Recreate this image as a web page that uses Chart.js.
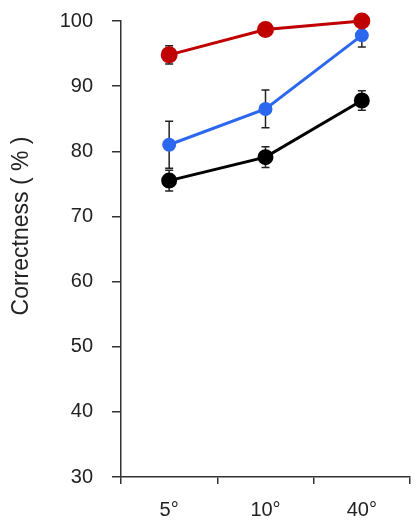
<!DOCTYPE html>
<html>
<head>
<meta charset="utf-8">
<script src="https://cdn.jsdelivr.net/npm/chart.js@4"></script>
<style>
  html, body { margin:0; padding:0; background:#fff; }
  #wrap { width:420px; height:529px; }
</style>
</head>
<body>
<div id="wrap"><canvas id="chart"></canvas></div>
<script>
// ======================
// DATA
// ======================
const angles = ["5°", "10°", "40°"];

const redVals = [94.8, 98.7, 100.0];
const redErr = [1.4, 0.6, 0.5];

const blueVals = [81.0, 86.5, 97.8];
const blueErr = [3.6, 2.9, 1.8];

const blackVals = [75.5, 79.1, 87.8];
const blackErr = [1.6, 1.6, 1.5];

const yTicks = [30, 40, 50, 60, 70, 80, 90, 100];
const yTitle = "Correctness ( % )";

const FONT = "'Liberation Sans', Arial, sans-serif";

// ======================
// ERROR BARS + Y TITLE
// ======================
const errorBars = {
  id: "errorBars",
  beforeDatasetsDraw(chart) {
    const ctx = chart.ctx;
    const x = chart.scales.x, y = chart.scales.y;
    ctx.save();
    ctx.strokeStyle = "#222";
    ctx.lineWidth = 1.5;
    chart.data.datasets.forEach(ds => {
      ds.data.forEach((v, i) => {
        const e = ds.errors[i];
        const px = x.getPixelForValue(i);
        const top = y.getPixelForValue(v + e);
        const bot = y.getPixelForValue(v - e);
        ctx.beginPath();
        ctx.moveTo(px, top); ctx.lineTo(px, bot);
        ctx.moveTo(px - 4, top); ctx.lineTo(px + 4, top);
        ctx.moveTo(px - 4, bot); ctx.lineTo(px + 4, bot);
        ctx.stroke();
      });
    });
    ctx.restore();
  },
  afterDraw(chart) {
    const ctx = chart.ctx;
    ctx.save();
    ctx.translate(22, 226);
    ctx.rotate(-Math.PI / 2);
    ctx.fillStyle = "#222";
    ctx.font = "23px " + FONT;
    ctx.textAlign = "center";
    ctx.textBaseline = "middle";
    ctx.fillText(yTitle, 0, 0);
    ctx.restore();
  }
};

// ======================
// CHART
// ======================
const series = [
  { data: redVals, errors: redErr, color: "#c00000", r: 7 },
  { data: blueVals, errors: blueErr, color: "#2c68ee", r: 5.5 },
  { data: blackVals, errors: blackErr, color: "#000000", r: 6.5 }
];

new Chart(document.getElementById("chart"), {
  type: "line",
  data: {
    labels: angles,
    datasets: series.map(s => ({
      data: s.data,
      errors: s.errors,
      borderColor: s.color,
      backgroundColor: s.color,
      pointBackgroundColor: s.color,
      pointBorderColor: s.color,
      borderWidth: 3,
      pointRadius: s.r,
      tension: 0,
      clip: false
    }))
  },
  options: {
    responsive: true,
    maintainAspectRatio: false,
    animation: false,
    layout: { padding: { top: 0, right: 3, bottom: 0, left: 0 } },
    plugins: { legend: { display: false }, tooltip: { enabled: false } },
    scales: {
      x: {
        offset: true,
        afterFit(scale) { scale.height = 52; },
        grid: { offset: true, drawOnChartArea: false, drawTicks: true, tickLength: 7, color: "#333", lineWidth: 1.5 },
        border: { color: "#333", width: 1.5 },
        ticks: { color: "#222", font: { family: FONT, size: 20 }, padding: 14 }
      },
      y: {
        min: 30,
        max: 100,
        afterFit(scale) {
          scale.width = 121;
          scale.paddingTop = 21;
          scale.paddingBottom = 0;
        },
        afterBuildTicks(scale) { scale.ticks = yTicks.map(v => ({ value: v })); },
        grid: { drawOnChartArea: false, drawTicks: true, tickLength: 9, color: "#333", lineWidth: 1.5 },
        border: { color: "#333", width: 1.5 },
        ticks: { color: "#222", font: { family: FONT, size: 20 }, padding: 19 }
      }
    }
  },
  plugins: [errorBars]
});
</script>
</body>
</html>
